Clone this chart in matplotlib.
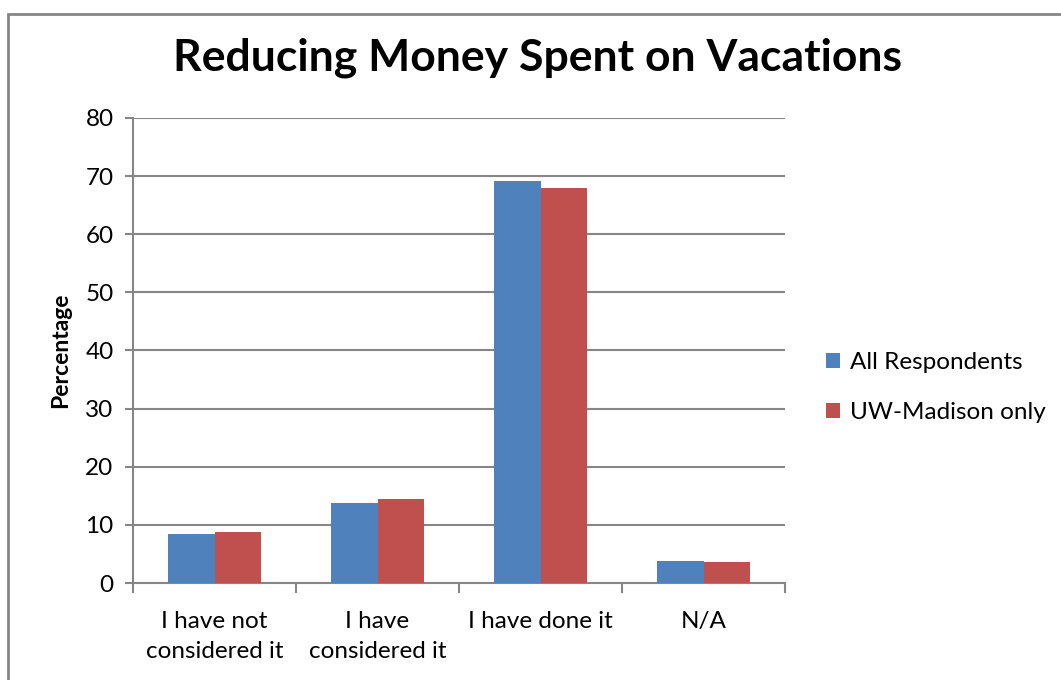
import numpy as np
import matplotlib.pyplot as plt
from matplotlib.patches import Rectangle

# survey answers, percent
categories = ['I have not\nconsidered it', 'I have\nconsidered it', 'I have done it', 'N/A']
all_resp = [8.45, 13.8, 69.1, 3.75]
uw_only = [8.7, 14.45, 68.0, 3.6]
yticks = [0, 10, 20, 30, 40, 50, 60, 70, 80]

plt.rcParams['font.family'] = ['Lato', 'DejaVu Sans']
grey = '#868686'

fig = plt.figure(figsize=(10.61, 6.8), dpi=100)
ax = fig.add_axes([0.1254, 0.1426, 0.6145, 0.684])

x = np.arange(len(categories))
w = 0.285
ax.bar(x - w/2, all_resp, w, color='#4F81BD', label='All Respondents', zorder=3)
ax.bar(x + w/2, uw_only, w, color='#C0504D', label='UW-Madison only', zorder=3)

ax.set_xlim(-0.5, len(categories) - 0.5)
ax.set_ylim(0, 80)
ax.set_yticks(yticks)
ax.yaxis.grid(True, color=grey, linewidth=1.5, zorder=0)
ax.set_xticks(x)
ax.set_xticklabels(categories, fontsize=17.5, linespacing=1.55)
ax.set_xticks(np.arange(len(categories) + 1) - 0.5, minor=True)
ax.tick_params(axis='x', which='major', length=0, pad=20)
ax.tick_params(axis='x', which='minor', length=7, width=1.5, color=grey)
ax.tick_params(axis='y', length=6, width=1.5, color=grey, labelsize=17.5, pad=8)
for s in ['top', 'right']:
    ax.spines[s].set_visible(False)
for s in ['left', 'bottom']:
    ax.spines[s].set_color(grey)
    ax.spines[s].set_linewidth(1.5)

ax.set_ylabel('Percentage', fontsize=16.5, fontweight='bold', labelpad=10)
fig.suptitle('Reducing Money Spent on Vacations', x=0.507, y=0.945,
             fontsize=32, fontweight='bold')

ax.legend(loc='center left', bbox_to_anchor=(1.029, 0.42), frameon=False,
          fontsize=17.5, handlelength=0.6, handleheight=0.6, handletextpad=0.4,
          labelspacing=1.2)

# outer chart frame
fig.patches.append(Rectangle((8/1061, -0.02), 1.1, 0.99 - 7/680 + 0.02,
                             transform=fig.transFigure, fill=False,
                             edgecolor=grey, linewidth=2))

fig.savefig('out.png', dpi=100)
